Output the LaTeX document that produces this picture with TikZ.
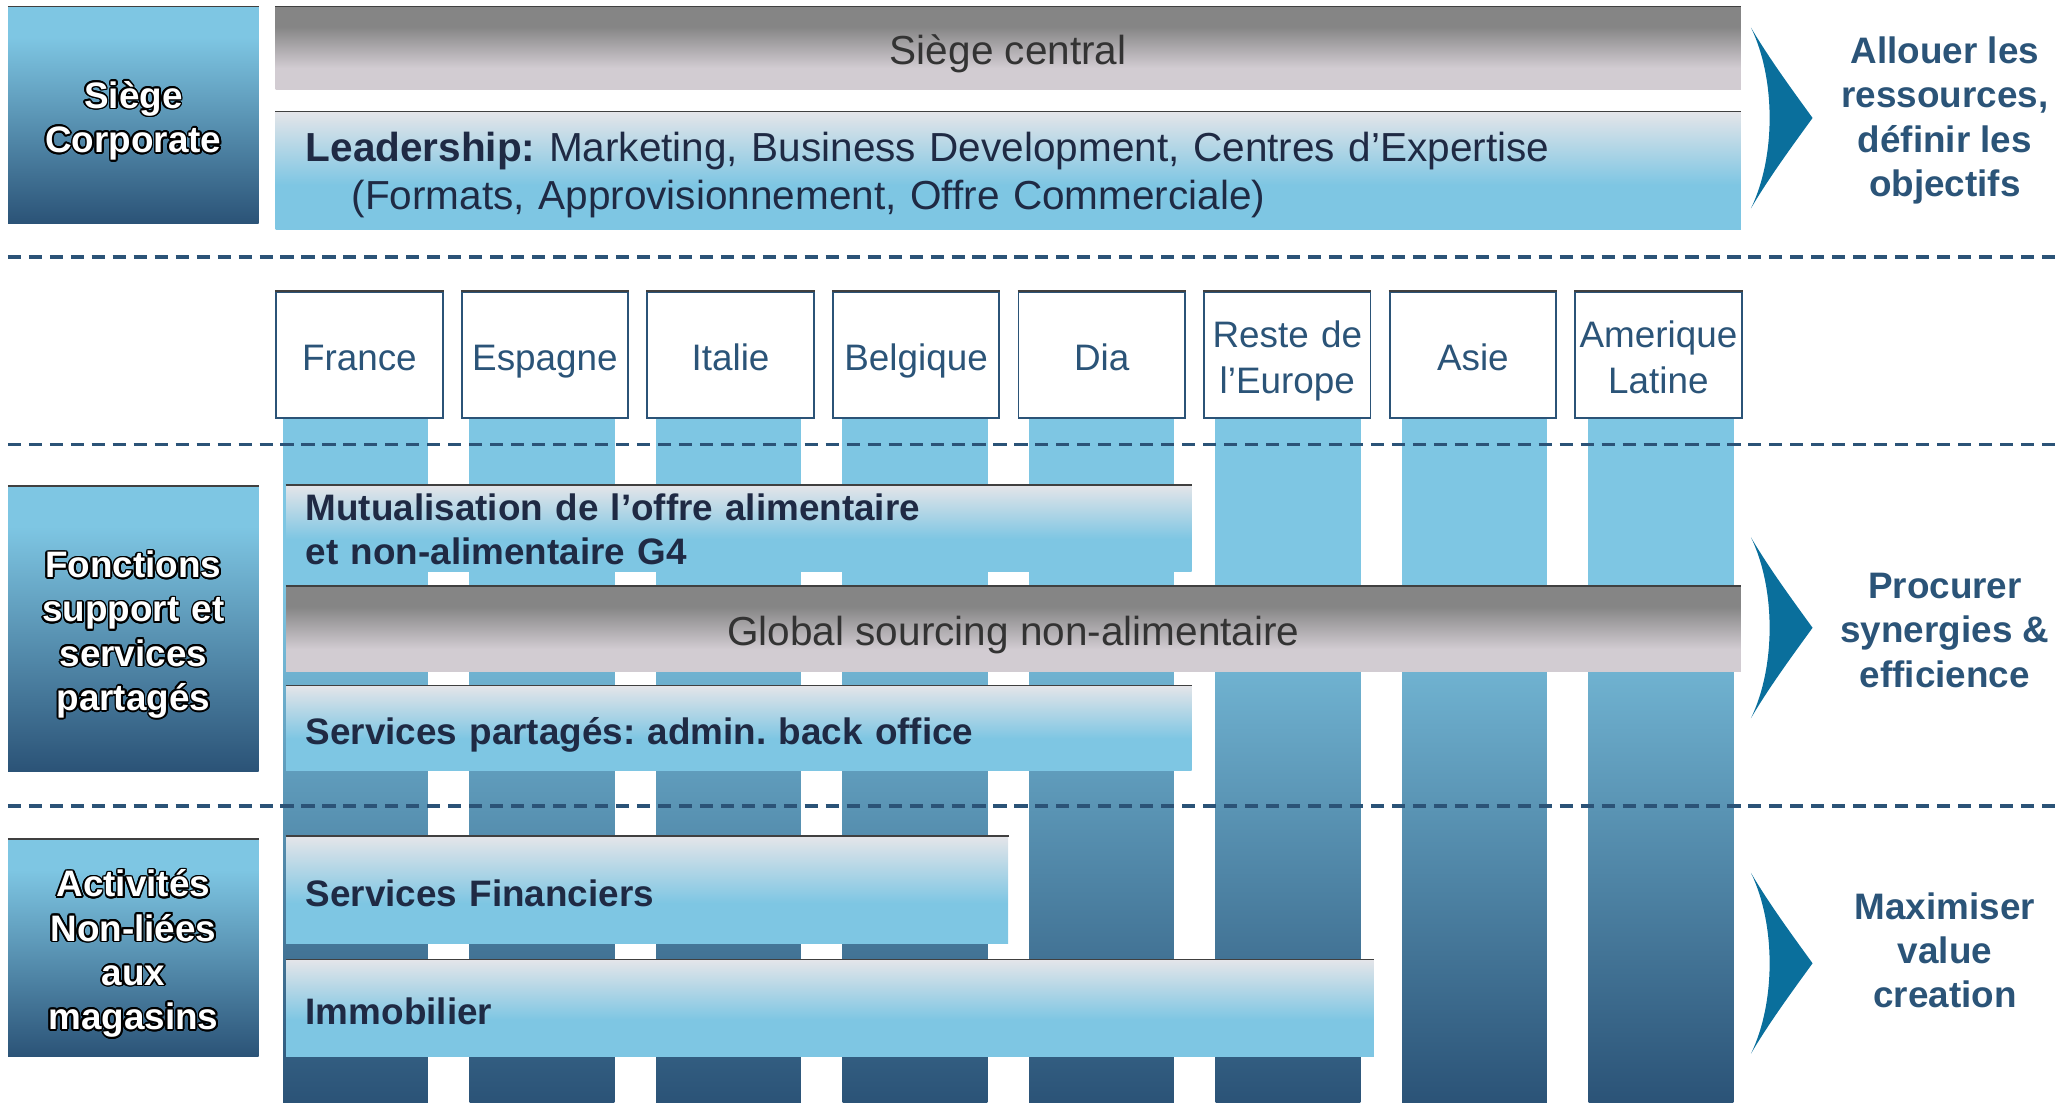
\documentclass[tikz,border=0pt]{standalone}
\usepackage{fontspec}
\setmainfont{Liberation Sans}
\usepackage{xcolor}
\usepackage{tikz}
\usepackage[copies]{contour}
\contourlength{0.9pt}
\definecolor{lightblue}{HTML}{7EC6E3}
\definecolor{darkblue}{HTML}{2B5377}
\definecolor{greydark}{HTML}{858585}
\definecolor{greylight}{HTML}{D2CCD2}
\definecolor{palegrey}{HTML}{E4E5E9}
\definecolor{navytext}{HTML}{1F2A44}
\definecolor{bluetext}{HTML}{2B5478}
\definecolor{chevblue}{HTML}{0A6F9C}
\definecolor{greytext}{HTML}{333333}

\pgfdeclareverticalshading{leftshade}{100bp}{color(0bp)=(darkblue); color(25bp)=(darkblue); color(68bp)=(lightblue); color(100bp)=(lightblue)}
\pgfdeclareverticalshading{greyshade}{100bp}{color(0bp)=(greylight); color(38bp)=(greylight); color(63bp)=(greydark); color(100bp)=(greydark)}
\pgfdeclareverticalshading{barshade}{100bp}{color(0bp)=(lightblue); color(44bp)=(lightblue); color(75bp)=(palegrey); color(100bp)=(palegrey)}
\pgfdeclareverticalshading{colshade}{100bp}{color(0bp)=(darkblue); color(25bp)=(darkblue); color(63bp)=(lightblue); color(100bp)=(lightblue)}

\newcommand{\outlined}[1]{\contour{black}{#1}}

\tikzset{padded/.style 2 args={execute at begin node={\rule{0pt}{#1}}, execute at end node={\rule[-#2]{0pt}{#2}}}}

\begin{document}
\frenchspacing
\begin{tikzpicture}[x=0.25mm, y=-0.25mm,
    sidebox/.style={shade, shading=leftshade, anchor=north west, inner sep=0pt, text width=47.75mm, align=center, text=white, font=\fontsize{20}{24}\selectfont\bfseries, padded={21.7pt}{4.5pt}},
    greybar/.style={shade, shading=greyshade, anchor=north west, inner sep=0pt, text=greytext, font=\fontsize{22}{26}\selectfont, padded={22.9pt}{5pt}},
    bluebar/.style={shade, shading=barshade, anchor=north west, inner xsep=3.75mm, inner ysep=0pt, align=left, text=navytext, font=\fontsize{20}{24}\selectfont\bfseries},
    onebar/.style={bluebar, padded={21.7pt}{4.5pt}},
    country/.style={draw=darkblue, line width=1pt, fill=white, anchor=north west, inner sep=0pt, text width=31.75mm, minimum height=24mm, align=center, text=bluetext, font=\fontsize{20}{25}\selectfont, padded={21.7pt}{4.5pt}},
    column/.style={shade, shading=colshade},
    topline/.style={black!75, line width=0.8pt},
    sepline/.style={darkblue, line width=1.8pt, dash pattern=on 2.5mm off 1.5mm},
    chevron/.style={fill=chevblue},
    goal/.style={align=center, text=bluetext, font=\fontsize{20}{24}\selectfont\bfseries}]

    \useasboundingbox (0,0) rectangle (1568,841);

    % Columns
    \foreach \i in {0,...,7} {
        \shade[column] (216+142.3*\i,318) rectangle ++(110.5,523);
    }

    % Separators
    \foreach \y in {196,339,615} {
        \draw[sepline] (6,\y) -- (1568,\y);
    }

    % Bars
    \node (central) [greybar, minimum width=279.5mm, minimum height=15.75mm] at (210,5) {Siège central};
    \node (leader) [bluebar, inner xsep=5.75mm, text width=268mm, minimum height=22.5mm, font=\fontsize{22}{26.3}\selectfont, padded={20.8pt}{5pt}] at (210,85) {\textbf{Leadership:} Marketing, Business Development, Centres d’Expertise\\\hspace*{8.75mm}(Formats, Approvisionnement, Offre Commerciale)};
    \node (mutual) [bluebar, text width=165.25mm, minimum height=16.5mm, padded={15pt}{0pt}] at (218,370) {Mutualisation de l’offre alimentaire\\et non-alimentaire G4};
    \node (sourcing) [greybar, minimum width=277.5mm, minimum height=16.25mm] at (218,447) {Global sourcing non-alimentaire};
    \node (shared) [onebar, text width=165.25mm, minimum height=16.25mm] at (218,523) {Services partagés: admin. back office};
    \node (finance) [onebar, text width=130.25mm, minimum height=20.5mm] at (218,638) {Services Financiers};
    \node (realestate) [onebar, text width=200mm, minimum height=18.5mm] at (218,732) {Immobilier};

    % Countries
    \foreach \name/\txt [count=\i from 0] in {france/France, spain/Espagne, italy/Italie, belgium/Belgique, dia/Dia, europe/{Reste de\\l’Europe}, asia/Asie, latam/{Amerique\\Latine}} {
        \node (\name) [country] at (210+141.6*\i,222) {\txt};
    }

    % Left boxes
    \node (corporate) [sidebox, minimum height=41.25mm] at (6,5) {\outlined{Siège}\\\outlined{Corporate}};
    \node (support) [sidebox, minimum height=54.25mm] at (6,371) {\outlined{Fonctions}\\\outlined{support et}\\\outlined{services}\\\outlined{partagés}};
    \node (nonstore) [sidebox, minimum height=41.5mm] at (6,640) {\outlined{Activités}\\\outlined{Non-liées}\\\outlined{aux}\\\outlined{magasins}};

    \foreach \n in {corporate, support, nonstore, central, leader, mutual, sourcing, shared, finance, realestate, france, spain, italy, belgium, dia, europe, asia, latam} {
        \draw[topline] (\n.north west) -- (\n.north east);
    }

    % Chevrons
    \foreach \cy in {90,479,735} {
        \fill[chevron] (1336,\cy-69) .. controls (1350,\cy-45) and (1370,\cy-18) .. (1383,\cy) .. controls (1370,\cy+18) and (1350,\cy+45) .. (1336,\cy+69) .. controls (1355,\cy+30) and (1355,\cy-30) .. cycle;
    }

    % Goals
    \node (allocate) [goal] at (1484,92) {Allouer les\\ressources,\\définir les\\objectifs};
    \node (synergy) [goal] at (1484,481) {Procurer\\synergies \&\\efficience};
    \node (value) [goal] at (1484,725) {Maximiser\\value\\creation};

\end{tikzpicture}
\end{document}
